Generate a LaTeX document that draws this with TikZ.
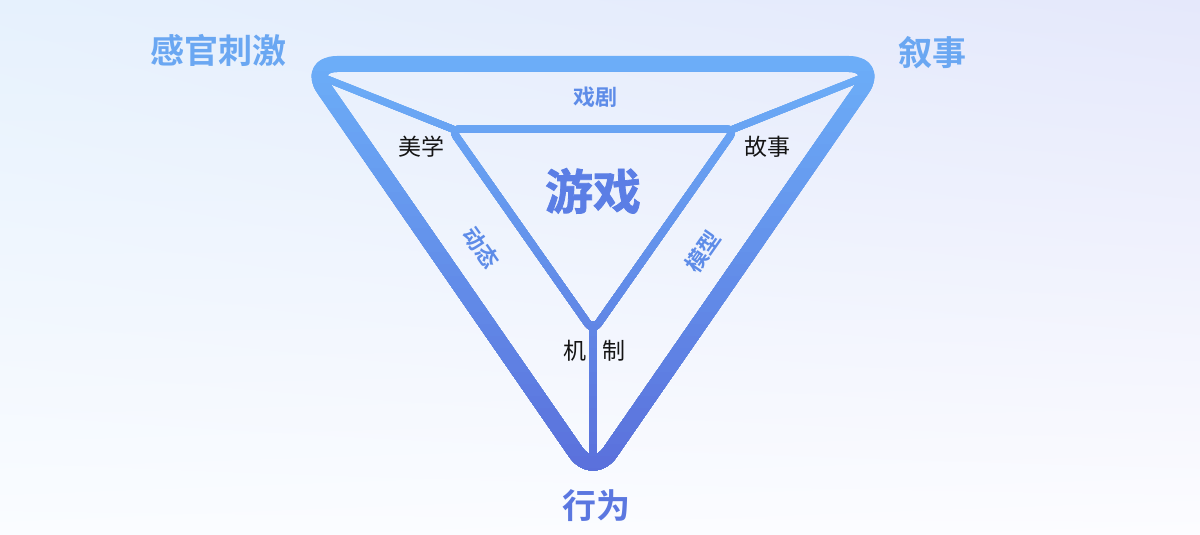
\documentclass[tikz,border=0pt]{standalone}
\usepackage{fontspec}
\usetikzlibrary{shadings}
\newfontfamily\cjk{Noto Sans CJK SC}
\newfontfamily\cjkbold{Noto Sans CJK SC Bold}
\newfontfamily\cjkheavy[FakeBold=1.6]{Noto Sans CJK SC Bold}
\definecolor{bgTL}{HTML}{E6F1FD}
\definecolor{bgTR}{HTML}{E5E8FB}
\definecolor{bgBL}{HTML}{FAFCFF}
\definecolor{bgBR}{HTML}{FCFCFF}
\definecolor{lineTop}{HTML}{6CAEF8}
\definecolor{lineBot}{HTML}{5A6FDB}
\definecolor{cornerTxt}{HTML}{6AA7F2}
\definecolor{midTxt}{HTML}{5E8CE8}
\definecolor{gameTxt}{HTML}{5B7EE5}
\definecolor{actTxt}{HTML}{5B77E0}
\definecolor{darkTxt}{HTML}{141414}
\tikzset{
  lbl/.style={inner sep=0pt, outer sep=0pt},
  corner/.style={lbl, text=cornerTxt, font=\cjkbold\fontsize{34}{34}\selectfont},
  facet/.style={lbl, text=midTxt, font=\cjkbold\fontsize{22}{22}\selectfont},
  plain/.style={lbl, text=darkTxt, font=\cjk\fontsize{23}{23}\selectfont},
  outerline/.style={line width=16pt, rounded corners=30pt, line join=round},
  innerline/.style={line width=7.5pt, rounded corners=9pt, line join=round},
  spoke/.style={line width=7pt, line cap=round},
}
\newcommand\triastrokes{%
  \draw[outerline] (593,64) -- (879,64) -- (593,477) -- (307,64) -- cycle;
  \draw[innerline] (593,129) -- (735,129) -- (593,331) -- (451,129) -- cycle;
  \draw[spoke] (oa) -- (ia);
  \draw[spoke] (ob) -- (ib);
  \draw[spoke, line width=7.5pt] (ic) -- (oc);
}
\begin{document}
\begin{tikzpicture}[x=1pt,y=-1pt]
  % background
  \shade[upper left=bgTL, upper right=bgTR, lower left=bgBL, lower right=bgBR]
    (0,0) rectangle (1200,535);
  \useasboundingbox (0,0) rectangle (1200,535);
  % spoke end points
  \coordinate (oa) at (322,77);
  \coordinate (ia) at (455,130);
  \coordinate (ob) at (864,77);
  \coordinate (ib) at (731,130);
  \coordinate (ic) at (593,325);
  \coordinate (oc) at (593,460);
  % strokes with a stepped vertical gradient
  \foreach \i in {0,...,35} {
    \pgfmathsetmacro\ytop{48+\i*12}
    \pgfmathsetmacro\pct{min(100,max(0,(\ytop-55)/415*100))}
    \begin{scope}
      \clip (280,\ytop) rectangle (905,495);
      \colorlet{bandcol}{lineBot!\pct!lineTop}
      \begin{scope}[draw=bandcol]
        \triastrokes
      \end{scope}
    \end{scope}
  }
  % corner labels
  \node[corner] (sense) at (218,50) {感官刺激};
  \node[corner] (narr) at (932,53) {叙事};
  \node[corner, text=actTxt] (behav) at (596,506) {行为};
  % centre
  \node[lbl, text=gameTxt, font=\cjkheavy\fontsize{48}{48}\selectfont] (game) at (593,191) {游戏};
  % facets
  \node[facet] (drama) at (595,97) {戏剧};
  \node[facet, rotate=-55] (dyn) at (481,248) {动态};
  \node[facet, rotate=55] (model) at (703,252) {模型};
  % plain labels
  \node[plain] (aest) at (421,147) {美学};
  \node[plain] (story) at (767,147) {故事};
  \node[plain] (mech1) at (575,351) {机};
  \node[plain] (mech2) at (614,351) {制};
\end{tikzpicture}
\end{document}
